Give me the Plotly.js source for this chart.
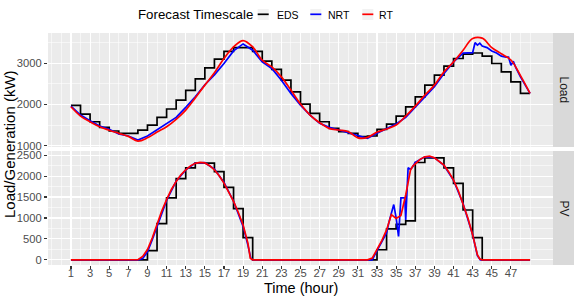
<!DOCTYPE html>
<html><head><meta charset="utf-8">
<script src="https://cdn.plot.ly/plotly-3.0.1.min.js"></script>
<style>html,body{margin:0;padding:0;background:#fff}#chart{width:574px;height:299px}</style>
</head><body><div id="chart"></div>
<script>
// ---------- data ----------
const hours = [1,2,3,4,5,6,7,8,9,10,11,12,13,14,15,16,17,18,19,20,21,22,23,24,25,26,27,28,29,30,31,32,33,34,35,36,37,38,39,40,41,42,43,44,45,46,47,48];
const edsLoad = [1978,1767,1581,1445,1356,1300,1300,1380,1500,1688,
                 1890,2107,2340,2620,2890,3100,3290,3380,3380,3290,
                 3050,2850,2590,2308,2010,1785,1581,1420,1340,1300,
                 1218,1235,1397,1525,1719,1944,2186,2470,2712,2930,
                 3116,3220,3250,3172,2995,2792,2550,2269];
const edsPv = [0,0,0,0,0,0,0,0,218,865,
               1480,1940,2195,2315,2310,2105,1730,1222,532,0,
               0,0,0,0,0,0,0,0,0,0,
               0,0,240,740,849,928,2325,2437,2437,2198,
               1825,1190,532,0,0,0,0,0];

const rtLoadHours = [1,2,3,4,5,6,7,8,9,10,11,12,13,14,15,16,17,18,19,20,21,22,23,24,25,26,27,28,29,30,31,32,33,34,35,36,37,38,39,40,41,42,43,44,45,46,47,48,49];
const rtLoad = [1944,1719,1581,1460,1375,1300,1225,1110,1190,1330,
                1460,1640,1864,2160,2470,2770,3116,3397,3550,3397,
                3075,2913,2670,2349,2010,1743,1557,1420,1380,1340,
                1190,1200,1330,1404,1500,1719,1961,2228,2470,2792,
                3034,3317,3600,3610,3380,3230,3080,2700,2269];

const rtPvHours = [1,7.5,8,8.5,9,9.5,10,10.5,11,11.5,12,12.5,13,13.5,14,14.5,15,15.5,16,16.5,17,17.5,18,18.5,19,19.5,19.75,20,
                   32,32.5,33,33.5,34,34.5,35,35.5,36,36.5,36.75,37,37.5,38,38.5,39,39.5,40,40.5,41,41.5,42,42.5,43,43.5,43.75,44,49];
const rtPv = [0,0,5,80,246,520,857,1170,1437,1680,1873,2030,2151,2245,2305,2330,2315,2250,2150,2010,1833,1630,1397,1130,833,400,40,0,
              0,40,238,460,714,1080,990,1060,1548,2143,2240,2302,2400,2460,2476,2437,2360,2262,2100,1905,1650,1349,1000,595,119,20,0,0];

const nrtLoadHours = [1,2,3,4,5,6,7,8,9,10,11,12,13,14,15,16,17,18,19,20,21,22,23,24,25,26,27,28,29,30,31,32,33,34,35,36,37,38,39,40,41,42,43,
                      43.25,43.5,43.75,44,44.5,45,45.5,46,46.5,46.75,47,47.25,47.5,48,49];
const nrtLoad = [1960,1743,1605,1477,1397,1283,1235,1138,1235,1380,
                 1542,1688,1930,2186,2480,2720,2995,3300,3470,3317,
                 3034,2874,2590,2269,1985,1743,1542,1445,1380,1315,
                 1235,1180,1300,1420,1525,1688,1930,2186,2430,2753,
                 3034,3245,3260,
                 3500,3440,3490,3420,3380,3300,3250,3172,3150,3150,2950,3050,2900,2670,2269];

const nrtPvHours = [1,8,8.5,9,9.5,10,10.5,11,12,13,14,15,16,17,18,19,19.5,19.8,20,
                    32.5,33,33.5,34,34.25,34.5,34.75,35,35.25,35.5,35.9,36,36.25,36.5,36.75,37,38,39,40,41,42,43,43.5,43.8,49];
const nrtPv = [0,0,30,190,480,800,1150,1420,1880,2150,2310,2320,2170,1850,1400,800,350,40,0,
               0,220,430,640,900,1150,1320,1000,560,1480,1480,950,2200,2160,2230,2330,2460,2440,2260,1900,1340,600,100,0,0];

const xTicks = [1,3,5,7,9,11,13,15,17,19,21,23,25,27,29,31,33,35,37,39,41,43,45,47];
const xMinor = [-1,0,2,4,6,8,10,12,14,16,18,20,22,24,26,28,30,32,34,36,38,40,42,44,46,48,49];
const loadTicks = [1000,2000,3000];
const loadMinor = [1500,2500,3500];
const pvTicks = [0,500,1000,1500,2000,2500];
const pvMinor = [250,750,1250,1750,2250];
const seriesNames = ['EDS','NRT','RT'];
const seriesColors = ['#000000','#0000FF','#FF0000'];
const panelNames = ['Load','PV'];

// ---------- geometry ----------
const W=574,H=299,L=48,R=21,T=33,B=34;
const pw=W-L-R, ph=H-T-B;
const px = x => (x-L)/pw;
const py = y => (H-B-y)/ph;
const topDom=[py(147),1], botDom=[0,py(151)];

function stepX(xs){return xs.concat([xs[xs.length-1]+1]);}
function stepY(ys){return ys.concat([ys[ys.length-1]]);}
const lw=1.7;
const traces=[
  {x:stepX(hours),y:stepY(edsLoad),xaxis:'x',yaxis:'y',mode:'lines',line:{color:seriesColors[0],width:lw,shape:'hv'},name:seriesNames[0],showlegend:false},
  {x:nrtLoadHours,y:nrtLoad,xaxis:'x',yaxis:'y',mode:'lines',line:{color:seriesColors[1],width:lw},name:seriesNames[1],showlegend:false},
  {x:rtLoadHours,y:rtLoad,xaxis:'x',yaxis:'y',mode:'lines',line:{color:seriesColors[2],width:lw,shape:'spline',smoothing:1},name:seriesNames[2],showlegend:false},
  {x:stepX(hours),y:stepY(edsPv),xaxis:'x2',yaxis:'y2',mode:'lines',line:{color:seriesColors[0],width:lw,shape:'hv'},name:seriesNames[0],showlegend:false},
  {x:nrtPvHours,y:nrtPv,xaxis:'x2',yaxis:'y2',mode:'lines',line:{color:seriesColors[1],width:lw},name:seriesNames[1],showlegend:false},
  {x:rtPvHours,y:rtPv,xaxis:'x2',yaxis:'y2',mode:'lines',line:{color:seriesColors[2],width:lw},name:seriesNames[2],showlegend:false}
];

const gridCommon={showgrid:true,gridcolor:'#FFFFFF',gridwidth:1.1,zeroline:false,showline:false};
const tickFont={size:11.2,color:'#4D4D4D'};
const xBase=Object.assign({range:[-1.4,51.4],tickmode:'array',tickvals:xTicks,
  minor:{tickmode:'array',tickvals:xMinor,showgrid:true,gridcolor:'#FFFFFF',gridwidth:0.55,ticks:''}},gridCommon);
const yBase=Object.assign({ticks:'outside',ticklen:3,tickwidth:1.1,tickcolor:'#333333',tickfont:tickFont},gridCommon);

const layout={
  width:W,height:H,margin:{l:L,r:R,t:T,b:B},
  paper_bgcolor:'#FFFFFF',plot_bgcolor:'#EBEBEB',
  font:{family:'Liberation Sans, Arial, sans-serif',color:'#000000'},
  showlegend:false,
  xaxis:Object.assign({},xBase,{domain:[0,1],anchor:'y',showticklabels:false,ticks:''}),
  xaxis2:Object.assign({},xBase,{domain:[0,1],anchor:'y2',showticklabels:true,ticks:'outside',ticklen:3,tickwidth:1.1,
    tickcolor:'#333333',tickfont:tickFont,ticklabelstandoff:-5}),
  yaxis:Object.assign({},yBase,{domain:topDom,anchor:'x',range:[968,3735],tickmode:'array',tickvals:loadTicks,
    minor:{tickmode:'array',tickvals:loadMinor,showgrid:true,gridcolor:'#FFFFFF',gridwidth:0.55,ticks:''}}),
  yaxis2:Object.assign({},yBase,{domain:botDom,anchor:'x2',range:[-124,2600],tickmode:'array',tickvals:pvTicks,
    minor:{tickmode:'array',tickvals:pvMinor,showgrid:true,gridcolor:'#FFFFFF',gridwidth:0.55,ticks:''}}),
  shapes:[],annotations:[]
};

// strips
[topDom,botDom].forEach((d,i)=>{
  layout.shapes.push({type:'rect',xref:'paper',yref:'paper',x0:1,x1:px(574),y0:d[0],y1:d[1],fillcolor:'#D9D9D9',line:{width:0},layer:'below'});
  layout.annotations.push({xref:'paper',yref:'paper',x:px(563.5),y:(d[0]+d[1])/2,text:panelNames[i],textangle:90,showarrow:false,
    font:{size:12,color:'#1A1A1A'},xanchor:'center',yanchor:'middle'});
});

// axis titles
layout.annotations.push({xref:'paper',yref:'paper',x:px(9),y:py(144),text:'Load/Generation (kW)',textangle:-90,showarrow:false,
  font:{size:15,color:'#000000'},xanchor:'center',yanchor:'middle',borderpad:0});
layout.annotations.push({xref:'paper',yref:'paper',x:px(300.5),y:py(287.5),text:'Time (hour)',showarrow:false,
  font:{size:14.5,color:'#000000'},xanchor:'center',yanchor:'middle'});

// legend (manual, ggplot style)
layout.annotations.push({xref:'paper',yref:'paper',x:px(136),y:py(15),text:'Forecast Timescale',showarrow:false,
  font:{size:13.3,color:'#000000'},xanchor:'left',yanchor:'middle'});
const keyX=[257.7,310.3,362.3], labX=[275,326.3,377.3];
seriesNames.forEach((n,i)=>{
  layout.shapes.push({type:'rect',xref:'paper',yref:'paper',x0:px(keyX[i]),x1:px(keyX[i]+11),y0:py(20),y1:py(9),fillcolor:'#F2F2F2',line:{width:0}});
  layout.shapes.push({type:'line',xref:'paper',yref:'paper',x0:px(keyX[i]),x1:px(keyX[i]+11),y0:py(14.3),y1:py(14.3),line:{color:seriesColors[i],width:1.7}});
  layout.annotations.push({xref:'paper',yref:'paper',x:px(labX[i]),y:py(14.5),text:n,showarrow:false,
    font:{size:10.5,color:'#000000'},xanchor:'left',yanchor:'middle'});
});

Plotly.newPlot('chart',traces,layout,{staticPlot:true,displayModeBar:false});
</script></body></html>
